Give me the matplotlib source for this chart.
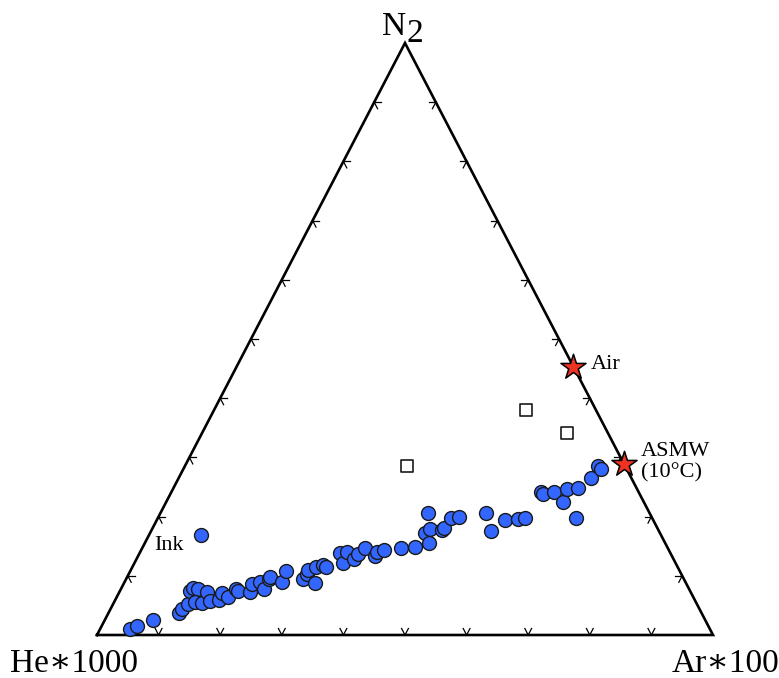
import numpy as np
from matplotlib import pyplot as plt

plt.rcParams['font.family'] = ['Liberation Serif', 'DejaVu Serif']

# blue samples, N2 and Ar in percent (He is the rest)
sample_n2 = [1.0, 1.5, 2.5, 3.7, 4.4, 5.2, 7.4, 7.9, 7.8, 5.6, 5.4, 7.3, 5.7, 5.9, 7.1, 6.4,
             7.8, 7.4, 7.3, 8.6, 9.0, 7.8, 9.5, 9.8, 9.0, 10.8, 9.5, 10.3, 11.0, 8.8, 11.5,
             11.8, 11.5, 13.9, 12.2, 14.0, 12.8, 13.7, 14.7, 13.3, 14.0, 14.4, 14.7, 14.9,
             20.6, 17.2, 17.9, 15.5, 17.7, 18.1, 19.8, 19.9, 20.6, 17.6, 19.4, 19.6, 19.8,
             24.2, 23.8, 24.2, 22.5, 24.7, 24.8, 19.8, 26.5, 28.5, 28.0]
sample_ar = [4.9, 5.7, 7.8, 11.5, 11.6, 12.2, 11.4, 11.6, 12.5, 13.1, 14.4, 14.2, 15.5, 16.9,
             16.8, 18.1, 18.7, 19.2, 21.2, 20.9, 22.0, 23.2, 23.1, 23.2, 25.6, 25.3, 28.7,
             29.0, 28.8, 31.0, 29.8, 30.8, 31.4, 32.5, 33.9, 33.6, 35.3, 35.6, 36.2, 38.5,
             38.5, 39.4, 42.0, 44.2, 43.5, 44.7, 45.1, 46.2, 47.2, 47.2, 47.6, 48.8, 52.9,
             55.2, 56.6, 58.6, 59.6, 59.9, 60.5, 62.1, 64.4, 64.0, 65.7, 67.9, 67.0, 67.1, 67.8]

# ink sample
ink_n2 = 16.9
ink_ar = 8.5

# open squares
square_n2 = [38.0, 34.1, 28.5]
square_ar = [50.7, 59.3, 36.1]

# reference points (stars)
ref_names = ['Air', 'ASMW\n(10°C)']
ref_n2 = [45.3, 28.9]
ref_ar = [54.7, 71.1]

tick_fractions = [0.1, 0.2, 0.3, 0.4, 0.5, 0.6, 0.7, 0.8, 0.9]


def to_xy(n2, ar):
    """ternary (percent) -> plot coordinates, He at lower left, Ar lower right, N2 on top"""
    n2 = np.asarray(n2, dtype=float) / 100.0
    ar = np.asarray(ar, dtype=float) / 100.0
    return ar + 0.5 * n2, n2


def draw_ticks(ax, d=0.011):
    # each tick is two short strokes running parallel to the other two sides
    for t in tick_fractions:
        # bottom side: N2 = 0, Ar = t
        for dn, da in [(d, 0), (d, -d)]:
            x, y = to_xy([0, dn * 100], [t * 100, (t + da) * 100])
            ax.plot(x, y, color='black', lw=0.9, clip_on=False)
        # left side: Ar = 0, N2 = t
        for dn, da in [(0, d), (-d, d)]:
            x, y = to_xy([t * 100, (t + dn) * 100], [0, da * 100])
            ax.plot(x, y, color='black', lw=0.9, clip_on=False)
        # right side: He = 0, N2 = t, Ar = 1 - t
        for dn, da in [(0, -d), (-d, 0)]:
            x, y = to_xy([t * 100, (t + dn) * 100], [(1 - t) * 100, (1 - t + da) * 100])
            ax.plot(x, y, color='black', lw=0.9, clip_on=False)


fig = plt.figure(figsize=(7.79, 6.78), dpi=100)
ax = fig.add_axes([97 / 779, 43 / 678, 616 / 779, 592 / 678])
ax.set_xlim(0, 1)
ax.set_ylim(0, 1)
ax.axis('off')

# triangle frame
ax.plot([0, 1, 0.5, 0], [0, 0, 1, 0], color='black', lw=1.9, clip_on=False,
        solid_joinstyle='miter')
draw_ticks(ax)

# samples
sx, sy = to_xy(sample_n2, sample_ar)
ax.scatter(sx, sy, s=100, facecolor='#3366ff', edgecolor='#1a1a1a', linewidths=1.0,
           zorder=3, clip_on=False)
ix, iy = to_xy(ink_n2, ink_ar)
ax.scatter([ix], [iy], s=100, facecolor='#3366ff', edgecolor='#1a1a1a', linewidths=1.0,
           zorder=3, clip_on=False)
ax.annotate('Ink', (ix, iy), xytext=(-18, -11), textcoords='offset pixels',
            ha='right', va='center', fontsize=16)

qx, qy = to_xy(square_n2, square_ar)
ax.scatter(qx, qy, s=85, marker='s', facecolor='white', edgecolor='#1a1a1a',
           linewidths=1.2, zorder=3, clip_on=False)

rx, ry = to_xy(ref_n2, ref_ar)
ax.scatter(rx, ry, s=360, marker='*', facecolor='#ee3322', edgecolor='black',
           linewidths=1.1, zorder=4, clip_on=False)
for name, x, y in zip(ref_names, rx, ry):
    ax.annotate(name, (x, y), xytext=(17, 2), textcoords='offset pixels',
                ha='left', va='center', fontsize=16, linespacing=1.15)

# corner labels
ax.annotate('N', (0.5, 1), xytext=(1, 8), textcoords='offset pixels',
            ha='right', va='baseline', fontsize=24)
ax.annotate('2', (0.5, 1), xytext=(1, 1), textcoords='offset pixels',
            ha='left', va='baseline', fontsize=24)
ax.annotate('He\u22171000', (0, 0), xytext=(-23, -37), textcoords='offset pixels',
            ha='center', va='baseline', fontsize=24)
ax.annotate('Ar\u2217100', (1, 0), xytext=(13, -37), textcoords='offset pixels',
            ha='center', va='baseline', fontsize=24)

fig.savefig('out.png', dpi=100)
